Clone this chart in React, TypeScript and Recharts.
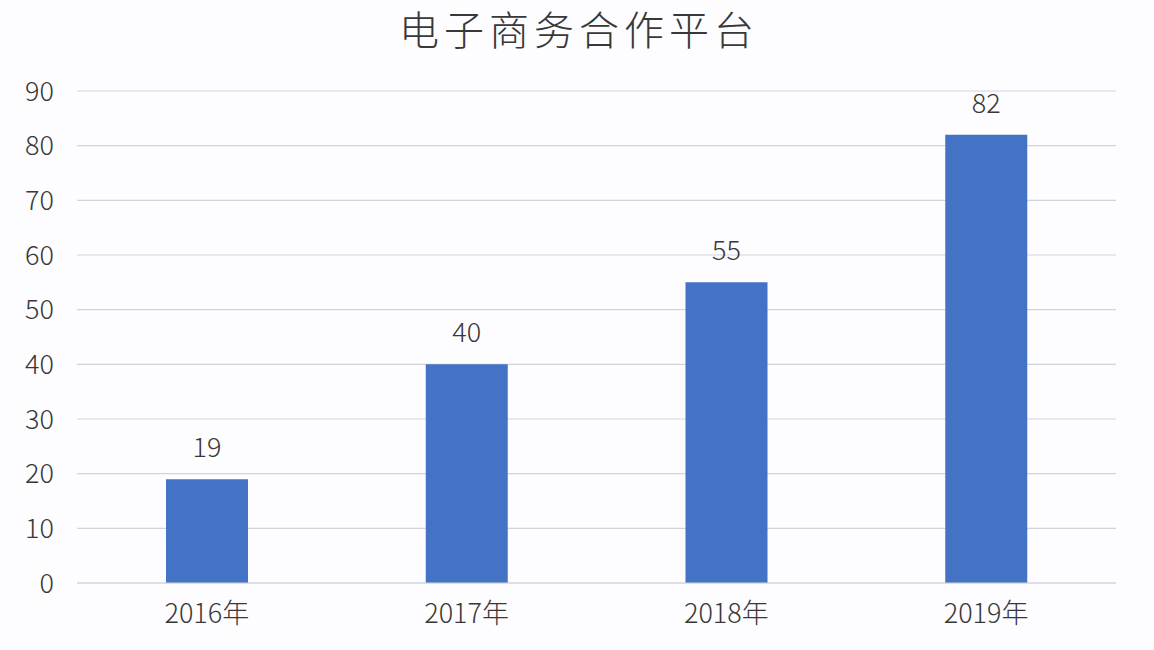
import { BarChart, Bar, XAxis, YAxis, CartesianGrid, LabelList } from 'recharts'

const years = ['2016年', '2017年', '2018年', '2019年']
const platformCounts = [19, 40, 55, 82]
const yTicks = [0, 10, 20, 30, 40, 50, 60, 70, 80, 90]

const data = years.map((year, i) => ({ year, value: platformCounts[i] }))

const FONT = '"Noto Sans CJK SC", "Noto Sans", sans-serif'
const textStyle = { fontSize: 27, fill: '#383838', fontFamily: FONT, fontWeight: 300 }

export default function App() {
  return (
    <div
      style={{
        position: 'absolute',
        left: 0,
        top: 0,
        width: 1154,
        height: 650,
        background: '#fdfcfe',
        fontFamily: FONT,
      }}
    >
      <BarChart
        width={1154}
        height={650}
        data={data}
        margin={{ top: 91, right: 38, left: 0, bottom: 0 }}
        barSize={82}
      >
        <text
          x={579}
          y={28}
          textAnchor="middle"
          dominantBaseline="central"
          style={{ fontSize: 40, letterSpacing: 5, fill: '#383838', fontFamily: FONT, fontWeight: 300 }}
        >
          电子商务合作平台
        </text>
        <CartesianGrid vertical={false} stroke="#d3d3db" strokeWidth={1.2} />
        <XAxis
          dataKey="year"
          axisLine={{ stroke: '#d3d3db', strokeWidth: 1.2 }}
          tickLine={false}
          tickSize={0}
          tickMargin={21}
          height={67}
          tick={textStyle}
        />
        <YAxis
          domain={[0, 90]}
          ticks={yTicks}
          axisLine={false}
          tickLine={false}
          tickSize={0}
          tickMargin={23}
          width={77}
          interval={0}
          tick={textStyle}
        />
        <Bar dataKey="value" fill="#4472c4" isAnimationActive={false}>
          <LabelList dataKey="value" position="top" offset={22} style={textStyle} />
        </Bar>
      </BarChart>
    </div>
  )
}
